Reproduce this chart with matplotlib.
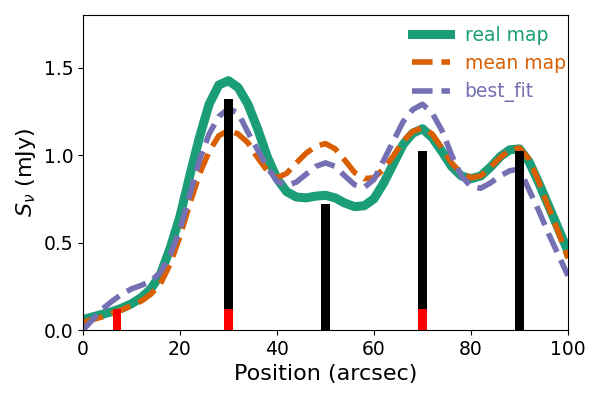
import matplotlib
matplotlib.use('Agg')
import matplotlib.pyplot as plt
import numpy as np

# profile positions (arcsec)
pos = [0, 2, 4, 6, 8, 10, 12, 14, 16, 18, 20, 22, 24, 26, 28, 30, 32, 34, 36, 38, 40,
       42, 44, 46, 48, 50, 52, 54, 56, 58, 60, 62, 64, 66, 68, 70, 72, 74, 76, 78, 80,
       82, 84, 86, 88, 90, 92, 94, 96, 98, 100]

real_map = [0.06, 0.075, 0.09, 0.105, 0.125, 0.15, 0.185, 0.235, 0.32, 0.47, 0.65,
            0.88, 1.10, 1.29, 1.40, 1.425, 1.385, 1.29, 1.15, 0.99, 0.865,
            0.79, 0.76, 0.755, 0.765, 0.77, 0.755, 0.725, 0.705, 0.71, 0.75,
            0.84, 0.95, 1.06, 1.125, 1.15, 1.10, 1.02, 0.935, 0.88, 0.865,
            0.88, 0.93, 0.99, 1.03, 1.035, 0.96, 0.84, 0.71, 0.58, 0.45]

mean_map = [0.045, 0.06, 0.075, 0.095, 0.115, 0.14, 0.165, 0.205, 0.265, 0.38, 0.535,
            0.72, 0.89, 1.02, 1.11, 1.14, 1.12, 1.07, 0.985, 0.91, 0.87,
            0.895, 0.955, 1.01, 1.05, 1.065, 1.035, 0.97, 0.90, 0.865, 0.87,
            0.92, 0.995, 1.08, 1.135, 1.155, 1.12, 1.04, 0.955, 0.895, 0.87,
            0.88, 0.93, 0.985, 1.03, 1.04, 0.975, 0.845, 0.70, 0.56, 0.41]

best_fit = [0.0, 0.06, 0.12, 0.165, 0.205, 0.235, 0.255, 0.28, 0.33, 0.43, 0.575,
            0.77, 0.97, 1.12, 1.22, 1.265, 1.24, 1.13, 1.03, 0.93, 0.85,
            0.825, 0.845, 0.89, 0.935, 0.955, 0.935, 0.88, 0.83, 0.815, 0.86,
            0.97, 1.08, 1.19, 1.26, 1.29, 1.24, 1.14, 1.0, 0.88, 0.82,
            0.81, 0.84, 0.88, 0.91, 0.92, 0.80, 0.68, 0.55, 0.43, 0.31]

# source positions and fluxes
src_x = [30, 50, 70, 90]
src_flux = [1.32, 0.72, 1.025, 1.025]
small_x = [7, 30, 70]
small_flux = [0.12, 0.12, 0.12]

fig = plt.figure(figsize=(5.98, 3.99), dpi=100)
ax = fig.add_subplot(111)
fig.subplots_adjust(left=0.1388, right=0.9498, top=0.9624, bottom=0.1729)

ax.plot(pos, real_map, color='#1b9e77', lw=6.5, label='real map',
        solid_joinstyle='round')
ax.plot(pos, mean_map, color='#d95f02', lw=4, ls='--', label='mean map',
        dash_joinstyle='round')
ax.plot(pos, best_fit, color='#7570b3', lw=4, ls='--', label='best_fit',
        dash_joinstyle='round')

ax.bar(src_x, src_flux, width=1.7, color='black', zorder=3)
ax.bar(small_x, small_flux, width=1.7, color='red', zorder=4)

ax.set_xlim(0, 100)
ax.set_ylim(0, 1.8)
ax.set_xticks([0, 20, 40, 60, 80, 100])
ax.set_yticks([0.0, 0.5, 1.0, 1.5])
ax.tick_params(labelsize=13.5)
ax.set_xlabel('Position (arcsec)', fontsize=16)
ax.set_ylabel(r'$S_{\nu}$ (mJy)', fontsize=16)

ax.legend(loc='upper right', frameon=False, fontsize=13.5, labelcolor='linecolor',
          bbox_to_anchor=(1.03, 1.02))

plt.savefig('out.png', dpi=100)
